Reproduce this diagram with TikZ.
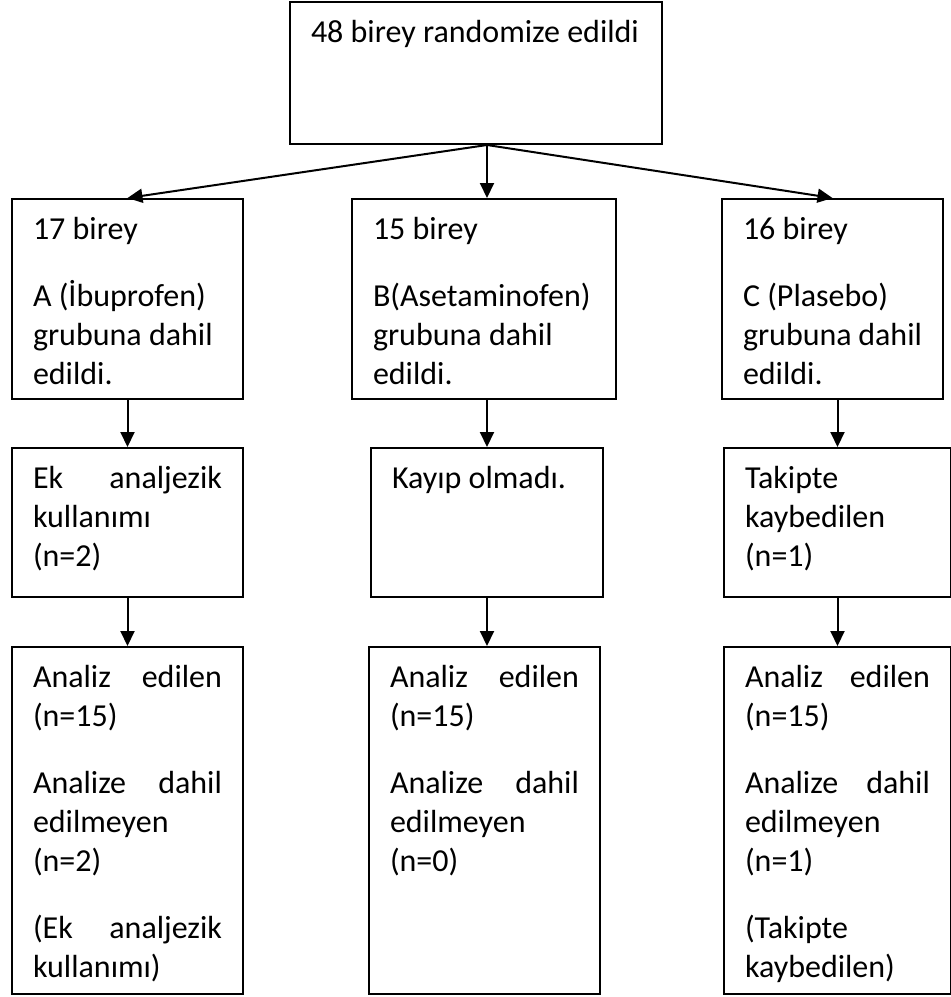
\documentclass[tikz,border=0pt]{standalone}
\usepackage{fontspec}
\setmainfont{Carlito}
\usetikzlibrary{arrows.meta}
\tikzset{
    flow-box/.style 2 args = {draw, line width=1pt, rectangle, anchor=north west, align=flush left,
        inner xsep=10.5pt, inner ysep=10pt, text width=#1, text height=10pt, text depth=#2,
        font=\fontsize{16pt}{19.5pt}\selectfont},
    flow-arrow/.style = {line width=1pt, -{Triangle[length=7.5pt,width=7pt]}},
}

\begin{document}
\begin{tikzpicture}[x=0.5pt, y=-0.5pt]
\useasboundingbox (0,0) rectangle (951,997);

% randomisation
\node [flow-box={165pt}{41pt}] (top) at (289,1) {48~birey~randomize~edildi};

% groups
\node [flow-box={94.5pt}{70pt}] (a1) at (11,198) {17 birey\\[14pt] A (İbuprofen)\\ grubuna~dahil\\ edildi.};
\node [flow-box={111pt}{70pt}] (b1) at (351,198) {15 birey\\[14pt] B(Asetaminofen)\\ grubuna~dahil\\ edildi.};
\node [flow-box={89.5pt}{70pt}] (c1) at (721,198) {16 birey\\[14pt] C (Plasebo)\\ grubuna~dahil\\ edildi.};

% follow-up
\node [flow-box={94.5pt}{44.5pt}] (a2) at (11,447) {Ek\hfill analjezik\\ kullanımı\\ (n=2)};
\node [flow-box={95pt}{44.5pt}] (b2) at (370,447) {Kayıp olmadı.};
\node [flow-box={92.5pt}{44.5pt}] (c2) at (723,447) {Takipte\\ kaybedilen\\ (n=1)};

% analysis
\node [flow-box={94.5pt}{143.5pt}] (a3) at (11,646) {Analiz\hfill edilen\\ (n=15)\\[14pt] Analize\hfill dahil\\ edilmeyen\\ (n=2)\\[14pt] (Ek\hfill analjezik\\ kullanımı)};
\node [flow-box={94.5pt}{143.5pt}] (b3) at (368,646) {Analiz\hfill edilen\\ (n=15)\\[14pt] Analize\hfill dahil\\ edilmeyen\\ (n=0)};
\node [flow-box={92.5pt}{143.5pt}] (c3) at (723,646) {Analiz\hfill edilen\\ (n=15)\\[14pt] Analize\hfill dahil\\ edilmeyen\\ (n=1)\\[14pt] (Takipte\\ kaybedilen)};

\coordinate (fork) at (b2.north |- top.south);
\draw [flow-arrow] (fork) -- (a1.north);
\draw [flow-arrow] (fork) -- (fork |- b1.north);
\draw [flow-arrow] (fork) -- (c1.north);

\draw [flow-arrow] (a1.south) -- (a2.north);
\draw [flow-arrow] (b2.north |- b1.south) -- (b2.north);
\draw [flow-arrow] (c2.north |- c1.south) -- (c2.north);

\draw [flow-arrow] (a2.south) -- (a3.north);
\draw [flow-arrow] (b2.south) -- (b2.south |- b3.north);
\draw [flow-arrow] (c2.south) -- (c3.north);
\end{tikzpicture}
\end{document}
